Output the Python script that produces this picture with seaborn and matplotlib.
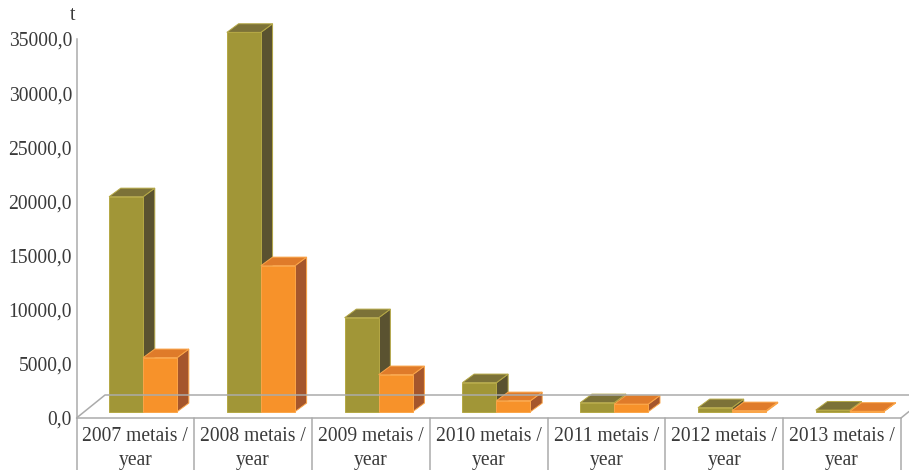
import matplotlib
matplotlib.use("Agg")
import matplotlib.pyplot as plt
from matplotlib.lines import Line2D
from matplotlib.patches import Polygon
from matplotlib.transforms import IdentityTransform
import pandas as pd
import seaborn as sns

years = ["2007", "2008", "2009", "2010", "2011", "2012", "2013"]
tick_labels = [y + " metais /\nyear" for y in years]
series_a = [19850, 35030, 8680, 2680, 830, 370, 150]
series_b = [4990, 13480, 3420, 1015, 700, 90, 40]
y_ticks = [0, 5000, 10000, 15000, 20000, 25000, 30000, 35000]

W, H = 909, 470
AX_L, AX_R, AX_T, AX_B = 76.5, 901.0, 39.0, 418.0
SHIFT_X, SHIFT_Y = 7.7, 6.3      # bar position inside the floor
DEPTH_X, DEPTH_Y = 11.7, 8.6     # bar depth
FLOOR_X, FLOOR_Y = 28.5, 23.0    # floor depth
GRAY = "#ababab"
TEXT = "#3a3a3a"
FONT = 14.1

styles = [
    dict(front="#a19637", side="#5a5230", top="#7c7238", edge="#b5a845"),
    dict(front="#f7922a", side="#a5562c", top="#df7b2a", edge="#fba548"),
]

sns.set_theme(style="white")
plt.rcParams["font.family"] = ["Liberation Serif", "DejaVu Serif"]

df = pd.DataFrame({
    "cat": tick_labels * 2,
    "value": series_a + series_b,
    "series": ["a"] * len(years) + ["b"] * len(years),
})

fig = plt.figure(figsize=(W / 100, H / 100), dpi=100)
ax = fig.add_axes([AX_L / W, 1 - AX_B / H, (AX_R - AX_L) / W, (AX_B - AX_T) / H])
sns.barplot(data=df, x="cat", y="value", hue="series", hue_order=["a", "b"],
            palette=[styles[0]["front"], styles[1]["front"]],
            width=0.578, gap=0, dodge=True, legend=False, ax=ax, saturation=1)
ax.set_xlim(-0.5, len(years) - 0.5)
ax.set_ylim(0, 35000)
ax.set_xlabel("")
ax.set_ylabel("")
ax.set_yticks(y_ticks)
ax.set_yticklabels([f"{v:.1f}".replace(".", ",") for v in y_ticks])
ax.tick_params(axis="y", length=0, pad=3.2, labelsize=FONT, labelcolor=TEXT)
ax.tick_params(axis="x", length=0, pad=6.5, labelsize=FONT, labelcolor=TEXT)
for lab in ax.get_xticklabels():
    lab.set_linespacing(1.36)
for s in ("top", "right"):
    ax.spines[s].set_visible(False)
for s in ("left", "bottom"):
    ax.spines[s].set_color(GRAY)
    ax.spines[s].set_linewidth(1.1)

fig.canvas.draw()
px = IdentityTransform()
to_px = ax.transData.transform


def add_line(xs, ys):
    # figure-pixel coordinates measured from the top-left
    fig.add_artist(Line2D([x / W for x in xs], [1 - y / H for y in ys],
                          color=GRAY, lw=1.1, transform=fig.transFigure))


# floor and category dividers
add_line([AX_L, AX_L + FLOOR_X, W], [AX_B, AX_B - FLOOR_Y, AX_B - FLOOR_Y])
add_line([AX_R, AX_R + 8], [AX_B, AX_B - 6.5])
for i in range(len(years) + 1):
    x = to_px((i - 0.5, 0))[0]
    add_line([x, x], [AX_B, H])

# 3-D faces built from each seaborn bar
for s_i, (cont, st) in enumerate(zip(ax.containers, styles)):
    z = 3 + s_i * 3
    for bar in cont:
        bar.set_visible(False)
        x0, y0 = to_px((bar.get_x(), 0))
        x1, y1 = to_px((bar.get_x() + bar.get_width(), bar.get_height()))
        x0 += SHIFT_X; x1 += SHIFT_X; y0 += SHIFT_Y; y1 += SHIFT_Y
        side = [(x1, y0), (x1 + DEPTH_X, y0 + DEPTH_Y), (x1 + DEPTH_X, y1 + DEPTH_Y), (x1, y1)]
        top = [(x0, y1), (x1, y1), (x1 + DEPTH_X, y1 + DEPTH_Y), (x0 + DEPTH_X, y1 + DEPTH_Y)]
        front = [(x0, y0), (x1, y0), (x1, y1), (x0, y1)]
        for pts, col, zz in ((side, st["side"], z), (top, st["top"], z + 1), (front, st["front"], z + 2)):
            ax.add_patch(Polygon(pts, closed=True, facecolor=col, edgecolor=st["edge"], lw=0.7,
                                 transform=px, clip_on=False, zorder=zz))

fig.text(73 / W, 1 - 16 / H, "t", ha="center", va="center", fontsize=FONT, color=TEXT)
fig.savefig("out.png", dpi=100)
